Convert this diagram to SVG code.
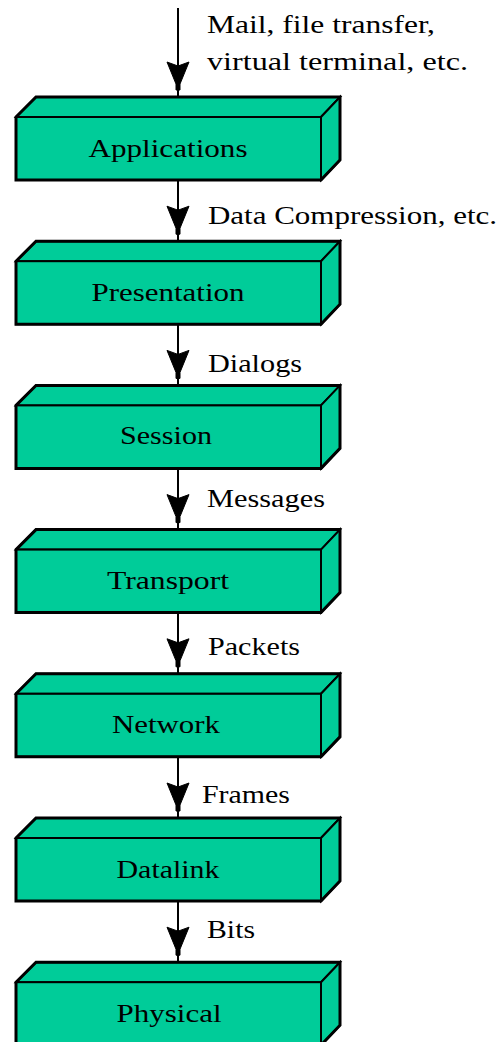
<svg xmlns="http://www.w3.org/2000/svg" xmlns:xlink="http://www.w3.org/1999/xlink" width="501" height="1042" viewBox="0 0 501 1042">
<style>
.face{fill:#00cc99;stroke:#000;stroke-width:2;stroke-linejoin:miter}
.outline{fill:none;stroke:#000;stroke-width:3;stroke-linejoin:miter}
.lbl{font-family:"Liberation Serif","Times New Roman",serif;font-size:26px;fill:#000}
.nlbl{font-family:"Liberation Serif","Times New Roman",serif;font-size:26px;fill:#000;text-anchor:middle}
.conn{stroke:#000;stroke-width:2;fill:none}
.head{fill:#000;stroke:#000;stroke-width:1}
</style>
<defs>
<g id="box">
<polygon class="face" points="16,20 36,0 340,0 321,20"/>
<rect class="face" x="16" y="20" width="305" height="63"/>
<polygon class="face" points="321,20 340,0 340,63 321,83"/>
<polygon class="outline" points="16,20 36,0 340,0 340,63 321,83 16,83"/>
</g>
<polygon id="ah" points="167,-35 178,-31 189,-35 180,-13 180,-7 176,-7 176,-13"/>
</defs>
<g id="connectors">
<line class="conn" x1="178" y1="8" x2="178" y2="97"/>
<line class="conn" x1="178" y1="180" x2="178" y2="241.2"/>
<line class="conn" x1="178" y1="324.2" x2="178" y2="385.4"/>
<line class="conn" x1="178" y1="468.4" x2="178" y2="529.6"/>
<line class="conn" x1="178" y1="612.6" x2="178" y2="673.8"/>
<line class="conn" x1="178" y1="756.8" x2="178" y2="818"/>
<line class="conn" x1="178" y1="901" x2="178" y2="962.2"/>
<use xlink:href="#ah" class="head" y="97"/>
<use xlink:href="#ah" class="head" y="241.2"/>
<use xlink:href="#ah" class="head" y="385.4"/>
<use xlink:href="#ah" class="head" y="529.6"/>
<use xlink:href="#ah" class="head" y="673.8"/>
<use xlink:href="#ah" class="head" y="818"/>
<use xlink:href="#ah" class="head" y="962.2"/>
<text class="lbl" x="207" y="33" textLength="228" lengthAdjust="spacingAndGlyphs">Mail, file transfer,</text>
<text class="lbl" x="207" y="70" textLength="261" lengthAdjust="spacingAndGlyphs">virtual terminal, etc.</text>
<text class="lbl" x="208" y="224" textLength="289" lengthAdjust="spacingAndGlyphs">Data Compression, etc.</text>
<text class="lbl" x="208" y="372" textLength="94" lengthAdjust="spacingAndGlyphs">Dialogs</text>
<text class="lbl" x="207" y="507" textLength="118" lengthAdjust="spacingAndGlyphs">Messages</text>
<text class="lbl" x="208" y="655" textLength="92" lengthAdjust="spacingAndGlyphs">Packets</text>
<text class="lbl" x="202" y="803" textLength="88" lengthAdjust="spacingAndGlyphs">Frames</text>
<text class="lbl" x="207" y="938" textLength="48" lengthAdjust="spacingAndGlyphs">Bits</text>
</g>
<g id="applications"><use xlink:href="#box" y="97"/><text class="nlbl" x="168" y="157" textLength="159" lengthAdjust="spacingAndGlyphs">Applications</text></g>
<g id="presentation"><use xlink:href="#box" y="241.2"/><text class="nlbl" x="168" y="301" textLength="153" lengthAdjust="spacingAndGlyphs">Presentation</text></g>
<g id="session"><use xlink:href="#box" y="385.4"/><text class="nlbl" x="166" y="444" textLength="92" lengthAdjust="spacingAndGlyphs">Session</text></g>
<g id="transport"><use xlink:href="#box" y="529.6"/><text class="nlbl" x="168" y="589" textLength="122" lengthAdjust="spacingAndGlyphs">Transport</text></g>
<g id="network"><use xlink:href="#box" y="673.8"/><text class="nlbl" x="166" y="733" textLength="108" lengthAdjust="spacingAndGlyphs">Network</text></g>
<g id="datalink"><use xlink:href="#box" y="818"/><text class="nlbl" x="168" y="878" textLength="103" lengthAdjust="spacingAndGlyphs">Datalink</text></g>
<g id="physical"><use xlink:href="#box" y="962.2"/><text class="nlbl" x="169" y="1022" textLength="105" lengthAdjust="spacingAndGlyphs">Physical</text></g>
</svg>
